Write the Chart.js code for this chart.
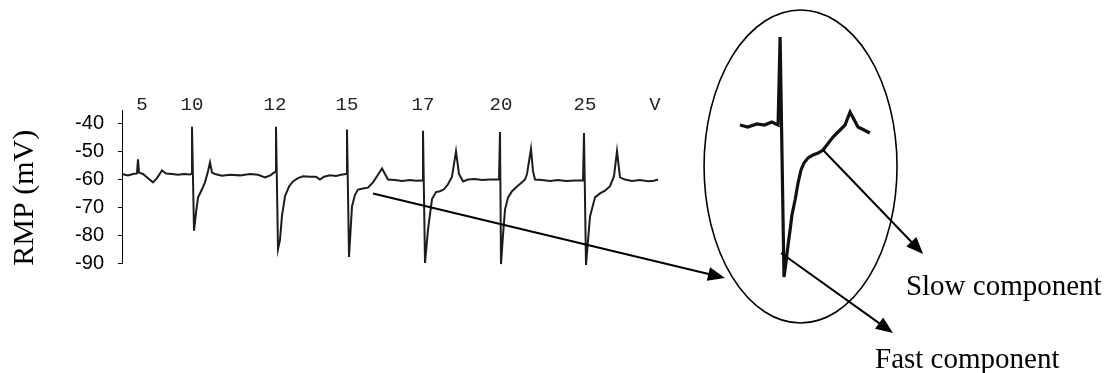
<!DOCTYPE html>
<html>
<head>
<meta charset="utf-8">
<script src="https://cdn.jsdelivr.net/npm/chart.js@4.4.1/dist/chart.umd.min.js"></script>
<style>
  html, body { margin: 0; padding: 0; background: #fff; }
</style>
</head>
<body>
<canvas id="chart" width="1110" height="373"></canvas>
<script>
// trace (time in a.u., membrane potential in mV)
const traceT = [1, 6, 11, 15, 16, 17, 21, 26, 31, 35, 40, 44, 50, 56, 62, 68, 70, 70, 72, 74, 76, 80, 83, 86, 88, 90, 93,
  100, 108, 118, 128, 136, 143, 148, 152, 154, 154, 156, 158, 160, 163, 167, 171, 176, 181, 188, 194, 198, 202, 208, 214, 219, 224,
  225, 225, 227, 230, 233, 236, 241, 246, 251, 255, 260, 263, 266, 273, 280, 288, 294, 300,
  301, 301, 303, 306, 310, 314, 318, 322, 326, 330, 334, 337, 341, 346, 353, 360, 368, 375, 377,
  378, 379, 381, 383, 386, 390, 395, 400, 403, 405, 409, 411, 413, 420, 428, 436, 444, 453, 461,
  462, 464, 466, 468, 473, 478, 483, 488, 492, 495, 498, 503, 510, 518, 526, 532, 536]
const traceMv = [-58.1, -58.5, -58, -57.8, -52.7, -57.5, -58, -59.5, -61, -59.5, -56.7, -57.8, -58, -58.3, -58, -58.2, -57.8, -41, -78.4, -72, -66.5, -63.5, -61, -57, -53.8, -57.5, -58,
  -58.6, -58.3, -58.5, -58, -58.3, -59.2, -58.6, -57.5, -57, -41, -85, -81.7, -73, -66, -62.5, -60.7, -59.5, -58.8, -59, -59, -60, -59, -58.5, -58.7, -58.3, -58,
  -58, -42, -87.8, -69.7, -65.5, -63.6, -63.2, -62.9, -61, -58.8, -56, -58, -60, -60.2, -60.5, -60.2, -60.4, -60.3,
  -60.3, -42.5, -90, -78, -67, -64.5, -64.2, -63.5, -61.7, -59, -49.8, -58, -60.7, -60, -59.8, -60.2, -60, -60, -60,
  -42.9, -90.4, -80, -70.8, -66.5, -64.2, -62.5, -61, -60, -58, -49, -57, -60, -60.2, -60.5, -60.2, -60.5, -60.3, -60.3,
  -43.3, -90.7, -82, -73.3, -66.4, -65, -64, -62.4, -58.8, -49.8, -59.2, -60, -60.5, -60.2, -60.6, -60.4, -60]

// enlarged single response shown in the ellipse
const insetT = [202.8, 207, 212, 216, 220, 223.4, 224.5, 226.6, 227.7, 228.8, 229.9, 230.9, 232.6, 234.2, 235.8, 237.4, 239.6,
  242.3, 245, 247.7, 253.1, 259.6, 262.3, 266.6, 269.9, 273]
const insetMv = [-58, -58.4, -57.8, -58, -57.4, -58, -40.4, -88.4, -85.4, -82, -79, -76, -73, -69.6, -67, -65.6, -64.6,
  -64, -63.6, -63, -60.4, -58, -55.4, -58.4, -59, -59.6]

// stimulus labels above the trace
const stimPos = [20, 70, 153, 225, 301, 379, 463, 533]
const stimLabels = ['5', '10', '12', '15', '17', '20', '25', 'V']

const yTicks = [-40, -50, -60, -70, -80, -90]

const zip = (xs, ys) => xs.map((x, i) => ({ x: x, y: ys[i] }))

function arrow(ctx, x0, y0, x1, y1) {
  const a = Math.atan2(y1 - y0, x1 - x0)
  const len = 17, half = 7
  ctx.beginPath()
  ctx.moveTo(x0, y0)
  ctx.lineTo(x1 - Math.cos(a) * len * 0.8, y1 - Math.sin(a) * len * 0.8)
  ctx.stroke()
  ctx.beginPath()
  ctx.moveTo(x1, y1)
  ctx.lineTo(x1 - Math.cos(a) * len + Math.sin(a) * half, y1 - Math.sin(a) * len - Math.cos(a) * half)
  ctx.lineTo(x1 - Math.cos(a) * len - Math.sin(a) * half, y1 - Math.sin(a) * len + Math.cos(a) * half)
  ctx.closePath()
  ctx.fill()
}

const calloutPlugin = {
  id: 'callout',
  afterDatasetsDraw(chart) {
    const ctx = chart.ctx
    const { x, y, xi, yi } = chart.scales
    ctx.save()
    ctx.strokeStyle = '#000'
    ctx.fillStyle = '#000'

    // ellipse round the enlarged response
    const l = xi.getPixelForValue(183.4), r = xi.getPixelForValue(287.7)
    const t = yi.getPixelForValue(-35), b = yi.getPixelForValue(-97.6)
    ctx.lineWidth = 1.6
    ctx.beginPath()
    ctx.ellipse((l + r) / 2, (t + b) / 2, (r - l) / 2, (b - t) / 2, 0, 0, Math.PI * 2)
    ctx.stroke()

    ctx.lineWidth = 2
    arrow(ctx, x.getPixelForValue(251), y.getPixelForValue(-65), xi.getPixelForValue(194.7), yi.getPixelForValue(-88.6))
    arrow(ctx, xi.getPixelForValue(247.7), yi.getPixelForValue(-63), xi.getPixelForValue(301.8), yi.getPixelForValue(-83.8))
    arrow(ctx, xi.getPixelForValue(225), yi.getPixelForValue(-83.6), xi.getPixelForValue(285.5), yi.getPixelForValue(-99.6))

    ctx.font = '29px "Liberation Serif", "Times New Roman", serif'
    ctx.textBaseline = 'alphabetic'
    ctx.textAlign = 'left'
    ctx.fillText('Slow component', xi.getPixelForValue(292.5), yi.getPixelForValue(-92))
    ctx.fillText('Fast component', xi.getPixelForValue(275.8), yi.getPixelForValue(-106.6))
    ctx.restore()
  }
}

new Chart(document.getElementById('chart'), {
  type: 'line',
  data: {
    datasets: [
      {
        data: zip(traceT, traceMv),
        xAxisID: 'x', yAxisID: 'y',
        borderColor: '#1c1c1c', borderWidth: 2,
        pointRadius: 0, tension: 0, clip: false
      },
      {
        data: zip(insetT, insetMv),
        xAxisID: 'xi', yAxisID: 'yi',
        borderColor: '#111', borderWidth: 3.2,
        pointRadius: 0, tension: 0, clip: false
      }
    ]
  },
  options: {
    responsive: false,
    animation: false,
    devicePixelRatio: 1,
    layout: { padding: { left: 0, right: 10, top: 90, bottom: 110 } },
    plugins: { legend: { display: false }, tooltip: { enabled: false } },
    scales: {
      x: { type: 'linear', min: 0, max: 978, display: false },
      xTop: {
        type: 'linear', position: 'top', min: 0, max: 978,
        grid: { display: false }, border: { display: false },
        afterBuildTicks: axis => { axis.ticks = stimPos.map(v => ({ value: v })) },
        afterFit: axis => { axis.height = 20 },
        ticks: {
          autoSkip: false, maxRotation: 0, padding: -12, color: '#222',
          font: { family: 'Liberation Mono', size: 19, lineHeight: 1 },
          callback: (v, i) => stimLabels[i]
        }
      },
      y: {
        type: 'linear', position: 'left', min: -90, max: -35,
        afterBuildTicks: axis => { axis.ticks = yTicks.map(v => ({ value: v })) },
        afterFit: axis => { axis.width = 122 },
        grid: { drawOnChartArea: false, drawTicks: true, tickLength: 4, color: '#000' },
        border: { display: true, color: '#000', width: 1 },
        ticks: { color: '#000', padding: 14, font: { family: 'Liberation Sans', size: 20 } },
        title: {
          display: true, text: 'RMP (mV)   ', color: '#000',
          font: { family: 'Liberation Serif', size: 30, lineHeight: 1.2 },
          padding: { top: 7, bottom: 0 }
        }
      },
      xi: { type: 'linear', min: -131.2, max: 397.4, display: false },
      yi: { type: 'linear', min: -85.6, max: -55, display: false }
    }
  },
  plugins: [calloutPlugin]
})
</script>
</body>
</html>
